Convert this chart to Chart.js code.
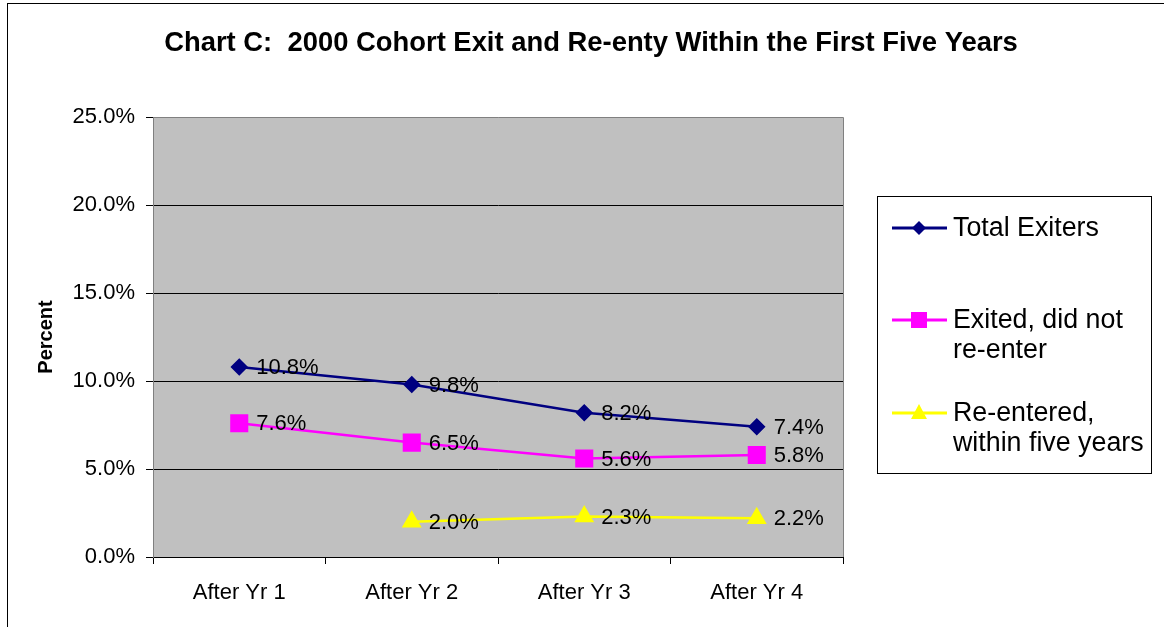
<!DOCTYPE html>
<html>
  <body style="margin: 0; background: #fff">
    <div style="position: relative; width: 1164px; height: 627px">
      <canvas id="lineChart" width="1164" height="627"></canvas>
    </div>

    <script src="https://cdn.jsdelivr.net/npm/chart.js"></script>

    <script>
      const categories = ["After Yr 1", "After Yr 2", "After Yr 3", "After Yr 4"];
      const totalExiters = [10.8, 9.8, 8.2, 7.4];
      const exitedNoReentry = [7.6, 6.5, 5.6, 5.8];
      const reentered = [null, 2.0, 2.3, 2.2];
      const seriesNames = [
        ["Total Exiters"],
        ["Exited, did not", "re-enter"],
        ["Re-entered,", "within five years"],
      ];
      const chartTitle = "Chart C:  2000 Cohort Exit and Re-enty Within the First Five Years";

      const FONT = "'Liberation Sans', Arial, sans-serif";
      const ctx = document.getElementById("lineChart");

      // plot background, outer frame and title
      const backdrop = {
        id: "backdrop",
        beforeDraw(chart) {
          const c = chart.ctx;
          const a = chart.chartArea;
          c.save();
          c.fillStyle = "#c0c0c0";
          c.fillRect(a.left, a.top, a.right - a.left, a.bottom - a.top);
          c.strokeStyle = "#000";
          c.lineWidth = 1;
          c.strokeRect(7.5, 3.5, 1200, 700);
          c.fillStyle = "#000";
          c.font = "bold 27.4px " + FONT;
          c.textAlign = "center";
          c.textBaseline = "middle";
          c.fillText(chartTitle, 591, 43);
          c.restore();
        },
        afterDraw(chart) {
          const c = chart.ctx;
          const a = chart.chartArea;
          c.save();
          c.strokeStyle = "#808080";
          c.lineWidth = 1;
          c.beginPath();
          c.moveTo(a.left, a.top + 0.5);
          c.lineTo(a.right + 0.5, a.top + 0.5);
          c.lineTo(a.right + 0.5, a.bottom);
          c.stroke();
          c.restore();
        },
      };

      // value labels to the right of each point
      const valueLabels = {
        id: "valueLabels",
        afterDatasetsDraw(chart) {
          const c = chart.ctx;
          c.save();
          c.font = "22px " + FONT;
          c.fillStyle = "#000";
          c.textAlign = "left";
          c.textBaseline = "middle";
          chart.data.datasets.forEach((ds, i) => {
            chart.getDatasetMeta(i).data.forEach((pt, j) => {
              const v = ds.data[j];
              if (v === null || v === undefined) return;
              c.fillText(v.toFixed(1) + "%", pt.x + 17, pt.y + 1);
            });
          });
          c.restore();
        },
      };

      function marker(c, style, x, y, color) {
        c.fillStyle = color;
        c.beginPath();
        if (style === "rectRot") {
          c.moveTo(x, y - 7);
          c.lineTo(x + 7, y);
          c.lineTo(x, y + 7);
          c.lineTo(x - 7, y);
        } else if (style === "rect") {
          c.rect(x - 8, y - 8, 16, 16);
        } else {
          c.moveTo(x, y - 9);
          c.lineTo(x + 8, y + 6);
          c.lineTo(x - 8, y + 6);
        }
        c.closePath();
        c.fill();
      }

      // boxed legend on the right
      const sideLegend = {
        id: "sideLegend",
        afterDraw(chart) {
          const c = chart.ctx;
          c.save();
          c.strokeStyle = "#000";
          c.lineWidth = 1;
          c.strokeRect(877.5, 196.5, 274, 277);
          c.font = "26.8px " + FONT;
          c.textAlign = "left";
          c.textBaseline = "middle";
          const rows = [228, 320, 413];
          chart.data.datasets.forEach((ds, i) => {
            const y = rows[i];
            c.strokeStyle = ds.borderColor;
            c.lineWidth = 3;
            c.beginPath();
            c.moveTo(892, y);
            c.lineTo(947, y);
            c.stroke();
            marker(c, ds.pointStyle, 919, y, ds.borderColor);
            c.fillStyle = "#000";
            seriesNames[i].forEach((line, k) => {
              c.fillText(line, 953, y + 1 + k * 30);
            });
          });
          c.restore();
        },
      };

      const data = {
        labels: categories,
        datasets: [
          {
            label: seriesNames[0].join(" "),
            data: totalExiters,
            borderColor: "#000080",
            backgroundColor: "#000080",
            borderWidth: 2.5,
            pointStyle: "rectRot",
            pointRadius: 7,
          },
          {
            label: seriesNames[1].join(" "),
            data: exitedNoReentry,
            borderColor: "#ff00ff",
            backgroundColor: "#ff00ff",
            borderWidth: 2.5,
            pointStyle: "rect",
            pointRadius: 11,
          },
          {
            label: seriesNames[2].join(" "),
            data: reentered,
            borderColor: "#ffff00",
            backgroundColor: "#ffff00",
            borderWidth: 2.5,
            pointStyle: "triangle",
            pointRadius: 9,
          },
        ],
      };

      const config = {
        type: "line",
        data: data,
        options: {
          responsive: false,
          animation: false,
          layout: { padding: { top: 117, right: 321, bottom: 0, left: 0 } },
          elements: { line: { tension: 0 }, point: { borderWidth: 1 } },
          scales: {
            x: {
              offset: true,
              afterFit: (s) => { s.height = 70; },
              grid: {
                offset: true,
                drawOnChartArea: false,
                tickLength: 7,
                tickColor: "#000",
              },
              border: { color: "#000", width: 1 },
              ticks: { color: "#000", font: { family: FONT, size: 22 }, padding: 16, maxRotation: 0 },
            },
            y: {
              min: 0,
              max: 25,
              afterFit: (s) => { s.width = 153; },
              grid: {
                color: (c) => (c.tick.value === 25 ? "rgba(0,0,0,0)" : "#000"),
                tickColor: "#000",
                tickLength: 7,
              },
              border: { color: "#808080", width: 1 },
              ticks: {
                stepSize: 5,
                color: "#000",
                padding: 11,
                font: { family: FONT, size: 22 },
                callback: (v) => v.toFixed(1) + "%",
              },
              title: {
                display: true,
                text: "Percent",
                color: "#000",
                font: { family: FONT, size: 20, weight: "bold" },
                padding: { top: 34, bottom: 0 },
              },
            },
          },
          plugins: {
            legend: { display: false },
            tooltip: { enabled: false },
          },
        },
        plugins: [backdrop, valueLabels, sideLegend],
      };

      new Chart(ctx, config);
    </script>
  </body>
</html>
